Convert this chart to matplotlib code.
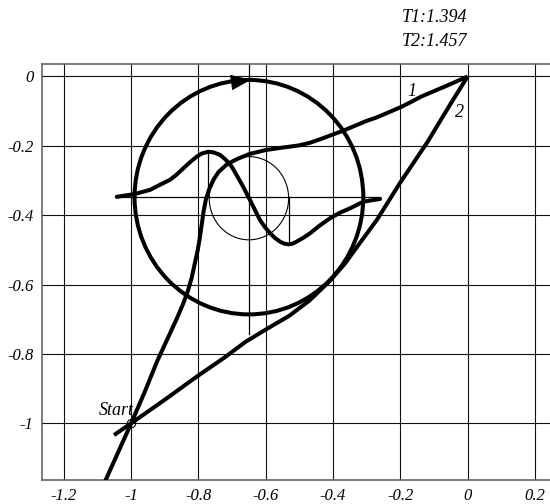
import matplotlib
matplotlib.use("Agg")
import matplotlib.pyplot as plt
from matplotlib.patches import Ellipse

# ---------------- data ----------------
xticks = [-1.2, -1.0, -0.8, -0.6, -0.4, -0.2, 0.0, 0.2]
xtick_labels = ["-1.2", "-1", "-0.8", "-0.6", "-0.4", "-0.2", "0", "0.2"]
yticks = [0.0, -0.2, -0.4, -0.6, -0.8, -1.0]
ytick_labels = ["0", "-0.2", "-0.4", "-0.6", "-0.8", "-1"]

# trajectory 1
traj1_x = [0.0, -0.065, -0.092, -0.138, -0.171, -0.2, -0.27, -0.3, -0.369, -0.43,
           -0.468, -0.503, -0.55, -0.6, -0.65, -0.685, -0.715, -0.74, -0.755, -0.768,
           -0.778, -0.785, -0.79, -0.796, -0.803, -0.81, -0.82, -0.832, -0.845, -0.862,
           -0.88, -0.9, -0.921, -0.94, -0.96, -0.98, -1.0, -1.077]
traj1_y = [0.0, -0.028, -0.039, -0.058, -0.075, -0.089, -0.118, -0.128, -0.156, -0.178,
           -0.191, -0.199, -0.205, -0.212, -0.224, -0.238, -0.253, -0.275, -0.297, -0.325,
           -0.355, -0.39, -0.425, -0.465, -0.505, -0.535, -0.58, -0.62, -0.654, -0.693,
           -0.731, -0.773, -0.817, -0.862, -0.91, -0.955, -1.0, -1.166]

# trajectory 2
traj2_x = [-1.051, -1.0, -0.9, -0.806, -0.722, -0.66, -0.597, -0.53, -0.47, -0.41,
           -0.365, -0.32, -0.27, -0.203, -0.12, -0.05, 0.0]
traj2_y = [-1.034, -1.0, -0.932, -0.866, -0.81, -0.765, -0.728, -0.69, -0.646, -0.59,
           -0.54, -0.48, -0.414, -0.31, -0.19, -0.078, 0.0]

# wave curve
wave_x = [-1.043, -0.99, -0.944, -0.92, -0.885, -0.865, -0.845, -0.825, -0.805, -0.79,
          -0.771, -0.755, -0.736, -0.72, -0.701, -0.685, -0.667, -0.647, -0.632, -0.617,
          -0.602, -0.587, -0.572, -0.558, -0.545, -0.532, -0.52, -0.508, -0.49, -0.468,
          -0.44, -0.409, -0.38, -0.349, -0.31, -0.26]
wave_y = [-0.347, -0.339, -0.327, -0.315, -0.298, -0.283, -0.265, -0.247, -0.231, -0.222,
          -0.217, -0.219, -0.226, -0.239, -0.26, -0.287, -0.318, -0.356, -0.385, -0.414,
          -0.435, -0.452, -0.466, -0.476, -0.482, -0.484, -0.482, -0.476, -0.466, -0.452,
          -0.43, -0.409, -0.393, -0.38, -0.361, -0.353]

# circles (center, diameter)
big_center = (-0.65, -0.348)
big_diam = (0.68, 0.676)
small_center = (-0.65, -0.351)
small_diam = (0.236, 0.24)

# thin reference lines
hline_y = -0.348
hline_x = (-1.043, -0.26)
vline_x = -0.649
vline_y = (0.036, -0.742)
peak_line = (-0.771, -0.217, -0.348)
trough_line = (-0.532, -0.348, -0.484)

arrow_tip = (-0.644, -0.0095)
arrow_tail = (-0.70, -0.017)

start_pt = (-1.0, -1.0)

xlim = (-1.266, 0.245)
ylim = (-1.1635, 0.036)

# ---------------- figure ----------------
serif = ["Liberation Serif", "DejaVu Serif"]
fig = plt.figure(figsize=(5.5, 5.04), dpi=100)
ax = fig.add_axes([41.7 / 550, 24 / 504, 1 - 41.7 / 550, (480 - 64) / 504])
ax.set_xlim(*xlim)
ax.set_ylim(*ylim)

for s in ["left", "bottom", "top"]:
    ax.spines[s].set_color("#666666")
    ax.spines[s].set_linewidth(1.2)
ax.spines["right"].set_visible(False)

ax.set_xticks(xticks)
ax.set_xticklabels(xtick_labels, family=serif, style="italic", fontsize=12)
ax.set_yticks(yticks)
ax.set_yticklabels(ytick_labels, family=serif, style="italic", fontsize=12)
ax.tick_params(length=0, pad=6)
ax.grid(True, color="#111111", linewidth=0.8)
ax.set_axisbelow(True)

lw = 2.9
ax.plot(traj1_x, traj1_y, color="black", lw=lw, solid_capstyle="butt",
        solid_joinstyle="round", zorder=3)
ax.plot(traj2_x, traj2_y, color="black", lw=lw, solid_capstyle="butt",
        solid_joinstyle="round", zorder=3)
ax.plot(wave_x, wave_y, color="black", lw=lw, solid_capstyle="round",
        solid_joinstyle="round", zorder=3)

ax.add_patch(Ellipse(big_center, big_diam[0], big_diam[1], fill=False, ec="black", lw=lw, zorder=3))
ax.add_patch(Ellipse(small_center, small_diam[0], small_diam[1], fill=False, ec="black", lw=0.8, zorder=2))

ax.plot(hline_x, [hline_y, hline_y], color="black", lw=0.9, zorder=2)
ax.plot([vline_x, vline_x], vline_y, color="black", lw=0.9, zorder=2, clip_on=False)
ax.plot([peak_line[0]] * 2, peak_line[1:], color="black", lw=0.9, zorder=2)
ax.plot([trough_line[0]] * 2, trough_line[1:], color="black", lw=0.9, zorder=2)

ax.annotate("", xy=arrow_tip, xytext=arrow_tail,
            arrowprops=dict(arrowstyle="-|>,head_length=0.9,head_width=0.35",
                            mutation_scale=16, color="black", lw=0, shrinkA=0, shrinkB=0),
            zorder=4)

ax.plot([start_pt[0]], [start_pt[1]], marker="o", ms=6, mfc="none", mec="black", mew=0.8, zorder=4)
ax.text(-1.045, -0.962, "Start", family=serif, style="italic", fontsize=13,
        ha="center", va="center", zorder=5)
ax.text(-0.166, -0.044, "1", family=serif, style="italic", fontsize=13,
        ha="center", va="center", zorder=5)
ax.text(-0.025, -0.104, "2", family=serif, style="italic", fontsize=13,
        ha="center", va="center", zorder=5)

fig.text(467 / 550, 1 - 17 / 504, "T1:1.394", family=serif, style="italic", fontsize=13,
         ha="right", va="center")
fig.text(467 / 550, 1 - 42 / 504, "T2:1.457", family=serif, style="italic", fontsize=13,
         ha="right", va="center")

fig.savefig("out.png", dpi=100)
